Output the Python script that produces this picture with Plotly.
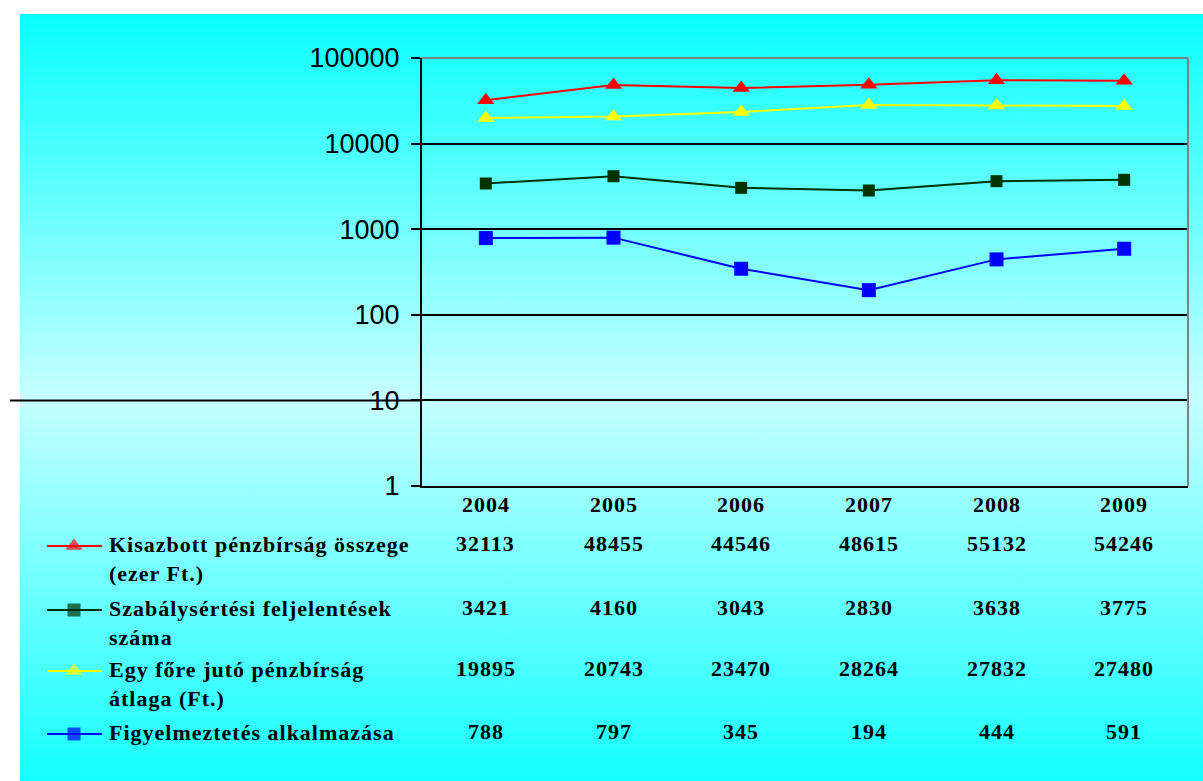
import base64
import plotly.graph_objects as go

# ---------------- data ----------------
years = ["2004", "2005", "2006", "2007", "2008", "2009"]
kisazbott = [32113, 48455, 44546, 48615, 55132, 54246]
szabalysertesi = [3421, 4160, 3043, 2830, 3638, 3775]
egy_fore = [19895, 20743, 23470, 28264, 27832, 27480]
figyelmeztetes = [788, 797, 345, 194, 444, 591]
legend_lines = [
    ["Kisazbott pénzbírság összege", "(ezer Ft.)"],
    ["Szabálysértési feljelentések", "száma"],
    ["Egy főre jutó pénzbírság", "átlaga (Ft.)"],
    ["Figyelmeztetés alkalmazása"],
]
y_tick_vals = [1, 10, 100, 1000, 10000, 100000]
y_tick_text = ["1", "10", "100", "1000", "10000", "100000"]

# ---------------- styling ----------------
W, H = 1203, 781
PL, PR, PT, PB = 422, 1188, 58, 486  # plot area in pixels
series = [
    (kisazbott, "#FF0000", "triangle-up", 15, 15),
    (szabalysertesi, "#003300", "square", 12, 13),
    (egy_fore, "#FFFF00", "triangle-up", 15, 15),
    (figyelmeztetes, "#0000FF", "square", 14, 13),
]
row_y = [543, 607, 668, 731]
year_y = 504
line_gap = 29
serif = "Liberation Serif, Times New Roman, serif"


def sp(t):
    return f'<b><span style="letter-spacing:1px">{t}</span></b>'


def py(p):
    return 1 - p / H


fig = go.Figure()

# data lines
for vals, col, sym, msz, _ in series:
    fig.add_trace(go.Scatter(
        x=years, y=vals, mode="lines+markers",
        line=dict(color=col, width=2),
        marker=dict(symbol=sym, size=msz, color=col, line=dict(width=0)),
        xaxis="x", yaxis="y", showlegend=False, hoverinfo="skip",
    ))

# legend symbols on pixel-space overlay axes
for (vals, col, sym, _, lsz), ry in zip(series, row_y):
    fig.add_trace(go.Scatter(
        x=[47, 74, 102], y=[ry + 3, ry + 3, ry + 3], mode="lines+markers",
        line=dict(color=col, width=2),
        marker=dict(symbol=sym, size=[0, lsz, 0], color=col, line=dict(width=0)),
        xaxis="x2", yaxis="y2", showlegend=False, hoverinfo="skip",
    ))

annotations = []
tfont = dict(family=serif, size=22, color="black")
# years row (category index positions on the category axis)
for i, yr in enumerate(years):
    annotations.append(dict(x=i, xref="x", y=py(year_y), yref="paper", text=sp(yr),
                            showarrow=False, xanchor="center", yanchor="middle",
                            font=tfont))
# values rows
for (vals, *_), ry in zip(series, row_y):
    for i, v in enumerate(vals):
        annotations.append(dict(x=i, xref="x", y=py(ry), yref="paper",
                                text=sp(str(v)), showarrow=False,
                                xanchor="center", yanchor="middle", font=tfont))
# legend texts
for lines, ry in zip(legend_lines, row_y):
    for i, t in enumerate(lines):
        annotations.append(dict(x=107 / W, xref="paper", y=py(ry + i * line_gap + 1),
                                yref="paper", text=sp(t), showarrow=False,
                                xanchor="left", yanchor="middle", font=tfont))

svg = ('<svg xmlns="http://www.w3.org/2000/svg" width="100" height="100" '
       'viewBox="0 0 100 100" preserveAspectRatio="none"><defs>'
       '<linearGradient id="g" x1="0" y1="0" x2="0" y2="1">'
       '<stop offset="0" stop-color="#08FFFF"/>'
       '<stop offset="0.5" stop-color="#C6FFFF"/>'
       '<stop offset="1" stop-color="#14FFFF"/>'
       '</linearGradient></defs>'
       '<rect width="100" height="100" fill="url(#g)"/></svg>')
src = "data:image/svg+xml;base64," + base64.b64encode(svg.encode()).decode()

fig.update_layout(
    width=W, height=H, autosize=False,
    margin=dict(l=0, r=0, t=0, b=0, pad=0),
    paper_bgcolor="white", plot_bgcolor="rgba(0,0,0,0)",
    showlegend=False,
    images=[dict(source=src, xref="paper", yref="paper",
                 x=20 / W, y=1 - 14 / H, sizex=(W - 20) / W, sizey=(H - 14) / H,
                 xanchor="left", yanchor="top", sizing="stretch", layer="below")],
    xaxis=dict(type="category", domain=[PL / W, PR / W], range=[-0.5, 5.5],
               showgrid=False, zeroline=False, showticklabels=False, ticks="",
               showline=True, linecolor="black", linewidth=2, anchor="y",
               automargin=False, fixedrange=True),
    yaxis=dict(type="log", domain=[1 - PB / H, 1 - PT / H], range=[0, 5],
               tickvals=y_tick_vals, ticktext=y_tick_text,
               showgrid=True, gridcolor="black", gridwidth=1.6,
               zeroline=False, showline=True, linecolor="black", linewidth=2,
               ticks="outside", ticklen=9, tickwidth=2, tickcolor="black",
               ticklabelstandoff=6,
               tickfont=dict(family="Liberation Sans, Arial, sans-serif", size=27,
                             color="black"),
               anchor="x", automargin=False, fixedrange=True),
    xaxis2=dict(domain=[0, 1], range=[0, W], visible=False, anchor="y2",
                automargin=False, fixedrange=True),
    yaxis2=dict(domain=[0, 1], range=[H, 0], visible=False, anchor="x2",
                automargin=False, fixedrange=True),
    annotations=annotations,
    shapes=[
        # extension of the 10 gridline to the left
        dict(type="line", xref="paper", x0=10 / W, x1=PL / W,
             yref="y domain", y0=0.2, y1=0.2, line=dict(color="black", width=2),
             layer="above"),
        # gray top and right border
        dict(type="line", xref="x domain", x0=0, x1=1, yref="y domain", y0=1, y1=1,
             line=dict(color="#808080", width=2), layer="above"),
        dict(type="line", xref="x domain", x0=1, x1=1, yref="y domain", y0=0, y1=1,
             line=dict(color="#808080", width=2), layer="above"),
    ],
)

fig.write_html("out.html", config={"displayModeBar": False},
               post_script="document.body.style.margin='0';"
                           "document.body.style.overflow='hidden';")
